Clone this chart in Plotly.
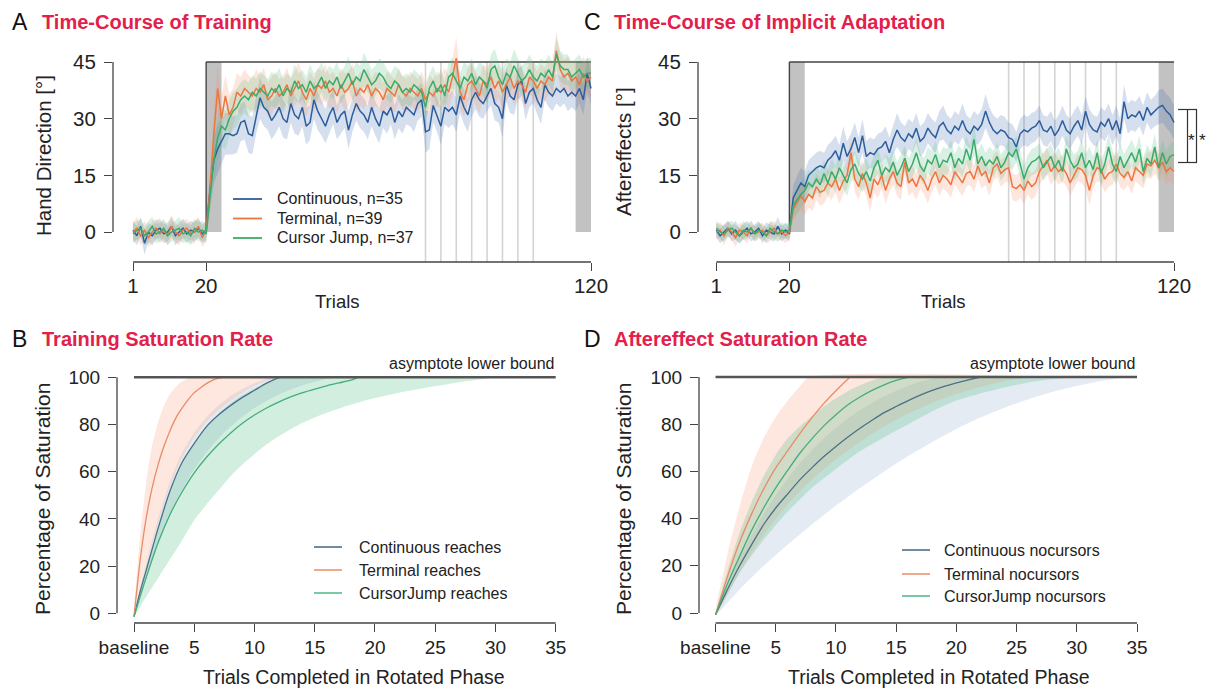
import plotly.graph_objects as go

W, H = 1208, 688
FONT = "Liberation Sans, Arial, sans-serif"
RED = "#e3204b"

# ------------------------------------------------------------------ data
trials = list(range(1, 121))

hand_continuous = [0.5, -1, 1.5, -3, 0, -1, 0.5, 1, -0.5, 0, 1.5, -1, 0, 1, -0.5, 0.5, 0, 1, -0.5, 0.5,
                   11, 19, 22, 24, 26, 26, 25.5, 26, 29, 29.5,
                   26, 25.5, 31, 35.5, 33, 32, 29.5, 31, 33, 30,
                   29, 34, 31, 30, 33, 28, 29, 35, 32, 30,
                   28, 31, 33, 29, 31, 32, 27, 31, 34, 32,
                   31, 29, 33, 30, 28, 32, 31, 33, 29, 32,
                   30.5, 33, 32, 31, 34, 35, 26.5, 27, 33.5, 31,
                   28, 33, 32, 33, 31, 36, 33, 31, 35, 37,
                   35, 34, 36, 38, 34, 33, 30, 39, 36, 35,
                   39, 40, 34, 37, 38, 35, 33, 39, 37, 36,
                   38, 37, 38, 36, 37, 36, 38, 35, 42, 38]
hand_terminal = [0, 1, -1, 0.5, -1.5, 0, 1, -0.5, 0.5, -1, 1.5, 0, -1, 0.5, 1, -0.5, 0, 1.5, -1.5, 0.5,
                 11, 26, 38, 30, 36, 31, 33, 37, 36, 38,
                 37, 36, 38, 37, 39, 35, 36, 38, 36, 37,
                 39, 36, 38, 40, 37, 35, 38, 36, 39, 38,
                 40, 37, 38, 36, 39, 37, 38, 40, 36, 38,
                 37, 39, 36, 38, 37, 35, 38, 37, 36, 39,
                 37, 36, 38, 37, 36, 38, 35, 37, 36, 38,
                 37, 39, 37, 41, 46, 37, 35, 39, 40, 38,
                 36, 40, 39, 41, 38, 40, 37, 39, 41, 38,
                 40, 39, 37, 41, 40, 38, 40, 39, 41, 40,
                 48, 43, 41, 42, 40, 41, 39, 42, 40, 41]
hand_cursorjump = [-0.5, 0.5, 1, -1, 0, 1.5, -0.5, 0, 1, -1, 0, 0.5, 1, -0.5, 0, -1, 1, 0, 0.5, -0.5,
                   9, 19, 25, 28, 27, 30, 32, 33, 35, 36,
                   35, 37, 36, 38, 37, 36, 38, 37, 39, 36,
                   38, 37, 40, 38, 39, 37, 40, 38, 39, 41,
                   38, 40, 39, 41, 38, 40, 42, 39, 41, 40,
                   43, 41, 39, 40, 42, 41, 39, 38, 40, 39,
                   37, 38, 37, 39, 38, 37, 33, 38, 40, 37,
                   39, 36, 41, 42, 40, 38, 41, 40, 42, 39,
                   41, 40, 38, 43, 44, 41, 39, 42, 41, 44,
                   42, 40, 41, 43, 41, 40, 42, 41, 43, 41,
                   47, 44, 43, 43, 41, 42, 43, 41, 42, 42]

hand_ci_continuous = [2.5, 2.5, 2.5, 3, 2.5, 2.5, 2.5, 2.5, 2.5, 2.5, 2.5, 2.5, 2.5, 2.5, 2.5, 2.5, 2.5, 2.5, 2.5, 2.5,
                      4, 6, 6.5, 6, 5.5, 5.5, 5, 5, 5, 5,
                      5, 5, 5, 5.5, 5, 5, 5, 5, 5, 5,
                      4.5, 5, 5, 4.5, 5, 5, 4.5, 5, 5, 4.5,
                      4.5, 5, 4.5, 4.5, 5, 4.5, 5, 4.5, 4.5, 4.5,
                      4.5, 4.5, 5, 4.5, 4.5, 4.5, 5, 4.5, 4.5, 4.5,
                      4.5, 4.5, 4, 4.5, 4.5, 4.5, 5.5, 5, 4.5, 4.5,
                      5, 4.5, 4.5, 4.5, 4.5, 4.5, 4.5, 4.5, 4.5, 4.5,
                      4.5, 4, 4, 4.5, 4.5, 4, 5, 4.5, 4.5, 4,
                      4, 4, 4.5, 4, 4, 4, 4.5, 4, 4, 4,
                      4, 4, 4, 4, 4, 4, 4, 4, 4.5, 4.5]
hand_ci_terminal = [2.5, 3, 2.5, 2.5, 2.5, 3, 2.5, 2.5, 2.5, 2.5, 3, 2.5, 2.5, 2.5, 2.5, 2.5, 3, 2.5, 2.5, 3,
                    4, 7, 6, 6, 5.5, 5.5, 5, 5, 5, 5,
                    4.5, 4.5, 5, 4.5, 4.5, 4.5, 5, 4.5, 4.5, 4.5,
                    4.5, 4.5, 4.5, 5, 4.5, 4.5, 4.5, 4.5, 4.5, 4.5,
                    4.5, 4.5, 4.5, 4.5, 4.5, 5, 4.5, 4.5, 4.5, 4.5,
                    4.5, 4.5, 4.5, 4.5, 4.5, 4.5, 4.5, 4.5, 4.5, 4.5,
                    4.5, 4.5, 4.5, 4.5, 4.5, 4.5, 4.5, 4.5, 4.5, 4.5,
                    4.5, 4.5, 4.5, 5, 5.5, 4.5, 4.5, 4.5, 4.5, 4.5,
                    4.5, 4.5, 4.5, 4.5, 4.5, 4.5, 4.5, 4.5, 4.5, 4.5,
                    4.5, 4.5, 4.5, 4.5, 4.5, 4.5, 4.5, 4.5, 4.5, 4.5,
                    5, 4.5, 4.5, 4.5, 4.5, 4.5, 4.5, 4.5, 4.5, 4.5]
hand_ci_cursorjump = [2.5, 2.5, 2.5, 2.5, 3, 2.5, 2.5, 2.5, 2.5, 2.5, 2.5, 2.5, 3, 2.5, 2.5, 2.5, 2.5, 2.5, 2.5, 2.5,
                      4, 6, 6, 5.5, 5, 5, 5, 5, 4.5, 4.5,
                      4.5, 4.5, 4.5, 4.5, 4.5, 4.5, 4.5, 4.5, 4.5, 4.5,
                      4, 4, 4.5, 4, 4, 4, 4.5, 4, 4, 4,
                      4, 4, 4, 4, 4, 4, 4.5, 4, 4, 4,
                      4.5, 4, 4, 4, 4, 4, 4, 4, 4, 4,
                      4, 4, 4, 4, 4, 4, 4.5, 4, 4, 4,
                      4, 4, 4, 4, 4, 4, 4, 4, 4, 4,
                      4, 4, 4, 4, 4.5, 4, 4, 4, 4, 4.5,
                      4, 4, 4, 4, 4, 4, 4, 4, 4, 4,
                      4.5, 4, 4, 4, 4, 4, 4, 4, 4, 4]

ae_continuous = [0.5, -1, 0, 1, -0.5, 0.5, -1, 0, 1, -0.5, 0, 1, -1, 0.5, 0, -0.5, 1.5, -0.5, 0.5, -0.5,
                 9, 11, 13, 12, 15, 16, 17, 17.5, 17, 19,
                 20, 21.5, 19, 23.5, 20, 22, 25, 21, 25.5, 20,
                 21, 20.5, 22, 22.5, 24, 21, 24.5, 27, 25, 24,
                 26, 25, 27.5, 24, 25, 27.5, 26, 25, 28, 29,
                 27, 26, 28, 27, 29.5, 27, 26, 28, 27, 28.5,
                 32, 29, 27, 26, 27, 26.5, 25, 24.5, 22.5, 26,
                 27, 26.5, 27.5, 28, 29.5, 27, 26.5, 28, 25.5, 27,
                 29.5, 27, 26, 28, 29.5, 27, 32, 28.5, 27, 26.5,
                 29, 28, 30, 27, 29.5, 26, 34.5, 30, 31, 30.5,
                 32, 29.5, 33, 31, 32, 33, 33.5, 32, 31, 29]
ae_terminal = [0, 0.5, -1, 1, 0, -1.5, 0.5, 0, -1, 1, -0.5, 0, 0.5, -1, 0, 1, -0.5, 0, -1, 0,
               6, 8, 9.5, 8, 10, 9, 12, 10.5, 11, 13,
               12, 14, 11, 13.5, 15, 21, 14, 12, 15.5, 13,
               9, 14, 12.5, 15, 11, 14, 16, 13, 12, 18.5,
               13, 14, 12, 15, 13.5, 11, 14, 16, 13, 15,
               14, 12.5, 16, 14.5, 13, 15.5, 16, 14, 17.5, 15,
               16, 13, 17, 18, 15.5, 16.5, 17, 12, 11.5, 12.5,
               11, 13.5, 12, 13, 16, 17.5, 19, 16, 17.5, 16,
               17, 15.5, 13, 15, 17, 16.5, 15, 11, 15, 17,
               16.5, 14, 15.5, 16, 18, 15.5, 14.5, 16, 13.5, 17,
               16, 15, 18, 17.5, 19, 17, 18.5, 16, 17, 16]
ae_cursorjump = [1, 0, -0.5, 0.5, 1, 0, -1, 0.5, 0, 1, -0.5, 0.5, 0, -1, 1, 0, -0.5, 0.5, 0, 0.5,
                 7, 8.5, 10, 11, 13, 12, 14, 12.5, 15.5, 13,
                 16, 14, 17, 15, 13, 16.5, 18, 15.5, 14, 16,
                 13.5, 17, 19, 15, 17, 16, 18.5, 15, 17, 19.5,
                 16, 18, 21, 17.5, 16, 19, 18, 20.5, 17, 19,
                 18.5, 21, 17, 19.5, 18, 22, 19, 24.5, 18, 20,
                 17.5, 19, 18, 20, 17, 18.5, 21, 20, 22, 18,
                 14, 17, 18.5, 19, 20, 17, 18.5, 20, 17, 19,
                 16, 22, 19, 17, 18, 21, 17, 19, 16.5, 21,
                 15.5, 18, 22.5, 18, 16, 20, 17, 19, 21, 18.5,
                 22, 16, 19.5, 18, 22.5, 17, 21, 18, 20, 20.5]

ae_ci_continuous = [2, 2, 2, 2, 2, 2.5, 2, 2, 2, 2, 2, 2, 2, 2, 2, 2, 2.5, 2, 2, 2,
                    3.5, 4, 4, 4, 4, 4, 4, 4, 4, 4,
                    4, 4, 4, 4.5, 4, 4, 4, 4, 4.5, 4,
                    4, 4, 4, 4, 4, 4, 4, 4.5, 4, 4,
                    4, 4, 4, 4, 4, 4, 4, 4, 4, 4.5,
                    4, 4, 4, 4, 4.5, 4, 4, 4, 4, 4,
                    4.5, 4, 4, 4, 4, 4, 4, 4, 4, 4,
                    4, 4, 4, 4, 4, 4, 4, 4, 4, 4,
                    4, 4, 4, 4, 4, 4, 4, 4, 4, 4,
                    4, 4, 4, 4, 4, 4, 4.5, 4, 4, 4,
                    4, 4, 4, 4, 4, 4.5, 4.5, 4.5, 4.5, 4.5]
ae_ci_terminal = [2, 2, 2.5, 2, 2, 2.5, 2, 2, 2, 2, 2, 2, 2, 2, 2.5, 2, 2, 2, 2, 2,
                  3, 3.5, 3.5, 3.5, 3.5, 3.5, 3.5, 3.5, 3.5, 3.5,
                  3.5, 3.5, 3.5, 3.5, 3.5, 4, 3.5, 3.5, 3.5, 3.5,
                  3.5, 3.5, 3.5, 3.5, 3.5, 3.5, 3.5, 3.5, 3.5, 3.5,
                  3.5, 3.5, 3.5, 3.5, 3.5, 3.5, 3.5, 3.5, 3.5, 3.5,
                  3.5, 3.5, 3.5, 3.5, 3.5, 3.5, 3.5, 3.5, 3.5, 3.5,
                  3.5, 3.5, 3.5, 3.5, 3.5, 3.5, 3.5, 3.5, 3.5, 3.5,
                  3.5, 3.5, 3.5, 3.5, 3.5, 3.5, 3.5, 3.5, 3.5, 3.5,
                  3.5, 3.5, 3.5, 3.5, 3.5, 3.5, 3.5, 4, 3.5, 3.5,
                  3.5, 3.5, 3.5, 3.5, 3.5, 3.5, 3.5, 3.5, 3.5, 3.5,
                  3.5, 3.5, 3.5, 3.5, 3.5, 3.5, 3.5, 3.5, 3.5, 3.5]
ae_ci_cursorjump = [2, 2, 2, 2, 2, 2, 2, 2.5, 2, 2, 2, 2, 2, 2, 2, 2, 2, 2, 2, 2,
                    3, 3.5, 3.5, 3.5, 3.5, 3.5, 3.5, 3.5, 3.5, 3.5,
                    3.5, 3.5, 3.5, 3.5, 3.5, 3.5, 3.5, 3.5, 3.5, 3.5,
                    3.5, 3.5, 3.5, 3.5, 3.5, 3.5, 3.5, 3.5, 3.5, 3.5,
                    3.5, 3.5, 4, 3.5, 3.5, 3.5, 3.5, 3.5, 3.5, 3.5,
                    3.5, 3.5, 3.5, 3.5, 3.5, 3.5, 3.5, 4, 3.5, 3.5,
                    3.5, 3.5, 3.5, 3.5, 3.5, 3.5, 3.5, 3.5, 3.5, 3.5,
                    3.5, 3.5, 3.5, 3.5, 3.5, 3.5, 3.5, 3.5, 3.5, 3.5,
                    3.5, 3.5, 3.5, 3.5, 3.5, 3.5, 3.5, 3.5, 3.5, 3.5,
                    3.5, 3.5, 3.5, 3.5, 3.5, 3.5, 3.5, 3.5, 3.5, 3.5,
                    3.5, 3.5, 3.5, 3.5, 3.5, 3.5, 3.5, 3.5, 3.5, 3.5]

rotation_start, rotation_end = 20, 120
rotated_size = 45
gray_blocks = [(20, 24), (116, 120)]
nocursor_trials = [77, 81, 85, 89, 93, 97, 101, 105]

# saturation curves (training, panel B)
trn_cont_t = [0, 0.5, 1, 2, 3, 4, 5, 6, 7, 8, 9, 10, 11, 12, 12.2]
trn_cont = [-1.4, 9, 18, 36, 52, 64, 72, 79, 84, 88, 91.5, 94.5, 97.5, 99.8, 100]
trn_cont_up_t = [0, 1, 2, 3, 4, 5, 6, 7, 8, 9, 10, 11, 11.7]
trn_cont_up = [-1.4, 21, 40, 56, 68, 76.5, 83, 88, 92, 95, 97.5, 99.3, 100]
trn_cont_lo_t = [0, 1, 2, 3, 4, 5, 6, 7, 8, 9, 10, 11, 12, 13, 14, 15, 16, 17]
trn_cont_lo = [-1.4, 14, 29, 42, 52.5, 61, 68, 74, 79, 83.3, 87, 90, 92.6, 94.8, 96.6, 98.1, 99.3, 100]
trn_term_t = [0, 0.5, 1, 1.5, 2, 2.5, 3, 3.5, 4, 4.5, 5, 5.5, 6, 6.5, 7, 7.4]
trn_term = [-1.4, 22, 40, 53, 63, 71, 77.5, 83, 87, 90.5, 93.5, 95.5, 97.3, 98.7, 99.6, 100]
trn_term_up_t = [0, 0.5, 1, 1.5, 2, 2.5, 3, 3.5, 4, 4.5, 4.9]
trn_term_up = [-1.4, 32, 55, 71, 81, 88, 93, 96, 98.3, 99.5, 100]
trn_term_lo_t = [0, 1, 2, 3, 4, 5, 6, 7, 8, 9, 10, 11, 12]
trn_term_lo = [-1.4, 20, 38, 54, 66, 74.5, 81, 86, 90, 93.5, 96.3, 98.5, 100]
trn_cj_t = [0, 1, 2, 3, 4, 5, 6, 7, 8, 9, 10, 11, 12, 13, 14, 15, 16, 17, 18, 18.6]
trn_cj = [-1.4, 15, 30, 42, 51.5, 59.5, 66, 71.5, 76.3, 80.5, 84, 87, 89.5, 91.7, 93.5, 95, 96.4, 97.6, 98.8, 100]
trn_cj_up_t = [0, 1, 2, 3, 4, 5, 6, 7, 8, 9, 10, 11, 12, 12.6]
trn_cj_up = [-1.4, 19, 37, 52, 63.5, 72, 79, 84.5, 89, 92.5, 95.3, 97.6, 99.4, 100]
trn_cj_lo_t = list(range(0, 31))
trn_cj_lo = [-1.4, 7, 15, 23, 31, 39.5, 46, 52, 58, 63, 67.5, 71.5, 75, 78, 80.7, 83, 85, 86.8, 88.4,
             89.9, 91.2, 92.4, 93.5, 94.5, 95.4, 96.3, 97.1, 97.9, 98.6, 99.3, 100]

# saturation curves (aftereffects, panel D)
ae_cont_t = list(range(0, 23))
ae_cont = [-0.8, 10, 20, 29, 37.5, 44.5, 50.5, 56.4, 61.5, 66.3, 70.6, 74.6, 78.3, 81.7, 84.9, 87.5,
           90, 92.3, 94.3, 96, 97.5, 98.8, 100]
ae_cont_up_t = list(range(0, 20))
ae_cont_up = [-0.8, 12, 23, 33, 42, 50, 57, 63.5, 69, 74, 78.5, 82.5, 86, 89, 91.8, 94.2, 96.3, 98, 99.3, 100]
ae_cont_lo_t = [0, 2, 4, 6, 8, 10, 12, 14, 16, 18, 20, 22, 24, 26, 28, 30, 32, 34]
ae_cont_lo = [-0.8, 10, 20, 29, 37.5, 45.5, 53, 60, 66.5, 72.5, 78, 82.8, 87, 90.6, 93.7, 96.2, 98.3, 100]
ae_term_t = [0, 1, 2, 3, 4, 5, 6, 7, 8, 9, 10, 11, 11.2]
ae_term = [-0.8, 15.5, 30, 42, 52.5, 61.5, 68.8, 76, 82.7, 88.8, 94.2, 99.2, 100]
ae_term_up_t = [0, 1, 2, 3, 4, 5, 6, 7, 7.8]
ae_term_up = [-0.8, 25, 45, 62, 74, 83, 90, 96, 100]
ae_term_lo_t = [0, 2, 4, 6, 8, 10, 12, 14, 16, 18, 20, 22, 24, 26]
ae_term_lo = [-0.8, 17, 33, 46, 56.5, 65, 72.5, 79, 84.5, 89, 92.8, 95.8, 98.2, 100]
ae_cj_t = [0, 1, 2, 3, 4, 5, 6, 7, 8, 9, 10, 11, 12, 13, 14, 15, 16, 16.4]
ae_cj = [-0.8, 12.5, 24, 35, 44.5, 53, 60.5, 67.7, 73.8, 79.3, 84, 88.2, 91.5, 94.3, 96.7, 98.6, 99.8, 100]
ae_cj_up_t = list(range(0, 15))
ae_cj_up = [-0.8, 18, 34, 47, 58, 67, 74, 79, 83.5, 87.5, 91, 94, 96.5, 98.5, 100]
ae_cj_lo_t = [0, 2, 4, 6, 8, 10, 12, 14, 16, 18, 20, 22, 24, 26, 28, 30]
ae_cj_lo = [-0.8, 17, 31, 43, 53, 61, 68.5, 74.5, 80, 85.5, 90, 93, 95.5, 97.7, 99, 100]

asymptote = 100
sat_x_ticks = [0, 5, 10, 15, 20, 25, 30, 35]
sat_x_labels = ["baseline", "5", "10", "15", "20", "25", "30", "35"]
sat_y_ticks = [0, 20, 40, 60, 80, 100]
tc_x_ticks = [1, 20, 120]
tc_y_ticks = [0, 15, 30, 45]

legend_top = ["Continuous, n=35", "Terminal, n=39", "Cursor Jump, n=37"]
legend_B = ["Continuous reaches", "Terminal reaches", "CursorJump reaches"]
legend_D = ["Continuous nocursors", "Terminal nocursors", "CursorJump nocursors"]

# ------------------------------------------------------------------ styles
LINE_TOP = ["#2c5e9e", "#ee7440", "#3aab68"]
BAND_TOP = ["rgba(70,110,175,0.22)", "rgba(248,140,100,0.22)", "rgba(80,190,130,0.22)"]
LINE_BOT = ["#4b7088", "#e98c68", "#45ad7c"]
BAND_BOT = ["rgba(130,165,200,0.22)", "rgba(250,175,145,0.30)", "rgba(95,195,140,0.28)"]
LEG_BOT = ["#5f7f99", "#eea080", "#6cc39a"]

# ------------------------------------------------------------------ geometry (pixel anchors)
PAN = {
    "A": dict(ax="", x=((1, 133), (120, 591)), y=((0, 232), (45, 62)), dx=(113, 600), dy=(32, 262)),
    "C": dict(ax="2", x=((1, 716.3), (120, 1174)), y=((0, 232), (45, 62)), dx=(698, 1205), dy=(32, 262)),
    "B": dict(ax="3", x=((0, 134), (35, 555.7)), y=((0, 613.3), (100, 377.3)), dx=(117, 562), dy=(355, 623)),
    "D": dict(ax="4", x=((0, 715.5), (35, 1137)), y=((0, 613), (100, 377)), dx=(699, 1145), dy=(355, 623)),
}


def lin(anchors):
    (v1, p1), (v2, p2) = anchors
    s = (p2 - p1) / (v2 - v1)
    return (lambda v: p1 + (v - v1) * s), (lambda p: v1 + (p - p1) / s)


def px(p):
    return p / W


def py(p):
    return 1 - p / H


fig = go.Figure()
layout = dict(template="none", width=W, height=H,
              margin=dict(l=0, r=0, t=0, b=0, pad=0, autoexpand=False), paper_bgcolor="white",
              plot_bgcolor="white", showlegend=False, font=dict(family=FONT, color="#222"))
shapes, annos = [], []

for key, p in PAN.items():
    fx, ix = lin(p["x"])
    fy, iy = lin(p["y"])
    p["fx"], p["fy"] = fx, fy
    top = key in ("A", "C")
    xa = dict(domain=[px(p["dx"][0]), px(p["dx"][1])], range=[ix(p["dx"][0]), ix(p["dx"][1])],
              anchor="y" + p["ax"], showgrid=False, zeroline=False, showline=False, ticks="outside",
              ticklen=8, tickwidth=1.2, tickcolor="#444", fixedrange=True, automargin=False,
              tickfont=dict(size=20.5 if top else 19, family=FONT, color="#222"),
              ticklabelstandoff=-3 if top else -1)
    ya = dict(domain=[py(p["dy"][1]), py(p["dy"][0])], range=[iy(p["dy"][1]), iy(p["dy"][0])],
              anchor="x" + p["ax"], showgrid=False, zeroline=False, showline=False, ticks="outside",
              ticklen=8, tickwidth=1.2, tickcolor="#444", fixedrange=True, automargin=False,
              tickfont=dict(size=20.5 if top else 19, family=FONT, color="#222"),
              ticklabelstandoff=4)
    if top:
        xa.update(tickvals=tc_x_ticks, ticktext=[str(v) for v in tc_x_ticks])
        ya.update(tickvals=tc_y_ticks, ticktext=[str(v) for v in tc_y_ticks])
    else:
        xa.update(tickvals=sat_x_ticks, ticktext=sat_x_labels)
        ya.update(tickvals=sat_y_ticks, ticktext=[str(v) for v in sat_y_ticks])
    layout["xaxis" + p["ax"]] = xa
    layout["yaxis" + p["ax"]] = ya
    # detached R-style axis lines spanning the tick range
    xt = tc_x_ticks if top else sat_x_ticks
    yt = tc_y_ticks if top else sat_y_ticks
    shapes.append(dict(type="line", xref="paper", yref="paper", x0=px(fx(xt[0])), x1=px(fx(xt[-1])),
                       y0=py(p["dy"][1]), y1=py(p["dy"][1]), line=dict(color="#444", width=1.3)))
    shapes.append(dict(type="line", xref="paper", yref="paper", x0=px(p["dx"][0]), x1=px(p["dx"][0]),
                       y0=py(fy(yt[0])), y1=py(fy(yt[-1])), line=dict(color="#444", width=1.3)))


def band_xy(xu, yu, xl, yl):
    return list(xu) + list(xl)[::-1], list(yu) + list(yl)[::-1]


# ---------------- time-course panels
for key, series, cis in (("A", [hand_continuous, hand_terminal, hand_cursorjump],
                          [hand_ci_continuous, hand_ci_terminal, hand_ci_cursorjump]),
                         ("C", [ae_continuous, ae_terminal, ae_cursorjump],
                          [ae_ci_continuous, ae_ci_terminal, ae_ci_cursorjump])):
    a = PAN[key]["ax"]
    xr, yr = "x" + a, "y" + a
    ybottom = layout["yaxis" + a]["range"][0]
    for (b0, b1) in gray_blocks:
        shapes.append(dict(type="rect", xref=xr, yref=yr, x0=b0, x1=b1, y0=0, y1=rotated_size,
                           fillcolor="#c2c2c2", line=dict(width=0), layer="below"))
    for t in nocursor_trials:
        shapes.append(dict(type="line", xref=xr, yref=yr, x0=t, x1=t, y0=ybottom, y1=rotated_size,
                           line=dict(color="#d4d4d4", width=1.6), layer="below"))
    shapes.append(dict(type="line", xref=xr, yref=yr, x0=rotation_start, x1=rotation_start, y0=0,
                       y1=rotated_size, line=dict(color="#444", width=1.4), layer="below"))
    shapes.append(dict(type="line", xref=xr, yref=yr, x0=rotation_start, x1=rotation_end,
                       y0=rotated_size, y1=rotated_size, line=dict(color="#444", width=1.4), layer="below"))
    for m, ci, bc in zip(series, cis, BAND_TOP):
        up = [v + c for v, c in zip(m, ci)]
        lo = [v - c for v, c in zip(m, ci)]
        bx, by = band_xy(trials, up, trials, lo)
        fig.add_trace(go.Scatter(x=bx, y=by, xaxis=xr, yaxis=yr, fill="toself", fillcolor=bc,
                                 line=dict(width=0), mode="lines", hoverinfo="skip"))
    for m, lc in zip(series, LINE_TOP):
        fig.add_trace(go.Scatter(x=trials, y=m, xaxis=xr, yaxis=yr, mode="lines",
                                 line=dict(color=lc, width=1.5)))

# ---------------- saturation panels
for key, curves in (("B", [(trn_cont_t, trn_cont, trn_cont_up_t, trn_cont_up, trn_cont_lo_t, trn_cont_lo),
                           (trn_term_t, trn_term, trn_term_up_t, trn_term_up, trn_term_lo_t, trn_term_lo),
                           (trn_cj_t, trn_cj, trn_cj_up_t, trn_cj_up, trn_cj_lo_t, trn_cj_lo)]),
                    ("D", [(ae_cont_t, ae_cont, ae_cont_up_t, ae_cont_up, ae_cont_lo_t, ae_cont_lo),
                           (ae_term_t, ae_term, ae_term_up_t, ae_term_up, ae_term_lo_t, ae_term_lo),
                           (ae_cj_t, ae_cj, ae_cj_up_t, ae_cj_up, ae_cj_lo_t, ae_cj_lo)])):
    a = PAN[key]["ax"]
    xr, yr = "x" + a, "y" + a
    for (t, v, tu, vu, tl, vl), bc in zip(curves, BAND_BOT):
        bx, by = band_xy(tu, vu, tl, vl)
        fig.add_trace(go.Scatter(x=bx, y=by, xaxis=xr, yaxis=yr, fill="toself", fillcolor=bc,
                                 line=dict(width=0, shape="spline", smoothing=0.6), mode="lines",
                                 hoverinfo="skip"))
    for (t, v, *_), lc in zip(curves, LINE_BOT):
        fig.add_trace(go.Scatter(x=t, y=v, xaxis=xr, yaxis=yr, mode="lines",
                                 line=dict(color=lc, width=1.3, shape="spline", smoothing=0.6)))
    shapes.append(dict(type="line", xref=xr, yref=yr, x0=sat_x_ticks[0], x1=sat_x_ticks[-1],
                       y0=asymptote, y1=asymptote, line=dict(color="#555", width=2.6), layer="above"))
    fx, fy = PAN[key]["fx"], PAN[key]["fy"]
    annos.append(dict(xref="paper", yref="paper", x=px(fx(sat_x_ticks[-1])), y=py(363),
                      text="asymptote lower bound", showarrow=False, xanchor="right", yanchor="middle",
                      font=dict(size=16, color="#222")))

# ---------------- legends
for (x0, x1, xt, ys, labels, cols) in ((233, 262, 275, [199, 218.5, 238], legend_top, LINE_TOP),
                                       (314, 342, 357, [547, 570, 593], legend_B, LEG_BOT),
                                       (902, 930, 942, [550, 574, 596], legend_D, LEG_BOT)):
    for yy, lab, c in zip(ys, labels, cols):
        shapes.append(dict(type="line", xref="paper", yref="paper", x0=px(x0), x1=px(x1), y0=py(yy), y1=py(yy),
                           line=dict(color=c, width=1.8)))
        annos.append(dict(xref="paper", yref="paper", x=px(xt), y=py(yy), text=lab, showarrow=False,
                          xanchor="left", yanchor="middle", font=dict(size=16, color="#222")))

# ---------------- significance bracket (panel C)
for (x0, x1, y0, y1) in ((1178, 1197, 109.5, 109.5), (1178, 1197, 162.5, 162.5),
                         (1187.5, 1187.5, 109.5, 162.5), (1196.5, 1196.5, 109.5, 162.5)):
    shapes.append(dict(type="line", xref="paper", yref="paper", x0=px(x0), x1=px(x1), y0=py(y0), y1=py(y1),
                       line=dict(color="#333", width=1.2)))
for xx in (1191.8, 1202.5):
    annos.append(dict(xref="paper", yref="paper", x=px(xx), y=py(140), text="*", showarrow=False,
                      xanchor="center", yanchor="middle", font=dict(size=17, color="#222")))

# ---------------- titles and axis titles
for letter, lx, title, tx, ty in (("A", 10, "Time-Course of Training", 40, 22),
                                  ("C", 582, "Time-Course of Implicit Adaptation", 612, 22),
                                  ("B", 10, "Training Saturation Rate", 40, 339),
                                  ("D", 582, "Aftereffect Saturation Rate", 612, 339)):
    annos.append(dict(xref="paper", yref="paper", x=px(lx), y=py(ty), text=letter, showarrow=False,
                      xanchor="left", yanchor="middle", font=dict(size=23, color="#111")))
    annos.append(dict(xref="paper", yref="paper", x=px(tx), y=py(ty), text="<b>" + title + "</b>",
                      showarrow=False, xanchor="left", yanchor="middle", font=dict(size=20, color=RED)))

for text, xx, yy, size in (("Hand Direction [°]", 44, 156, 20.5), ("Aftereffects [°]", 624, 152, 20.5),
                           ("Percentage of Saturation", 43, 499, 21), ("Percentage of Saturation", 624, 499, 21)):
    annos.append(dict(xref="paper", yref="paper", x=px(xx), y=py(yy), text=text, showarrow=False,
                      textangle=-90, xanchor="center", yanchor="middle", font=dict(size=size, color="#222")))

for text, xx, yy, size in (("Trials", 337, 301, 18.5), ("Trials", 943, 301, 18.5),
                           ("Trials Completed in Rotated Phase", 354, 677, 19.5),
                           ("Trials Completed in Rotated Phase", 939, 677, 19.5)):
    annos.append(dict(xref="paper", yref="paper", x=px(xx), y=py(yy), text=text, showarrow=False,
                      xanchor="center", yanchor="middle", font=dict(size=size, color="#222")))

layout["shapes"] = shapes
layout["annotations"] = annos
fig.update_layout(**layout)
fig.write_html("out.html", config={"displayModeBar": False})
